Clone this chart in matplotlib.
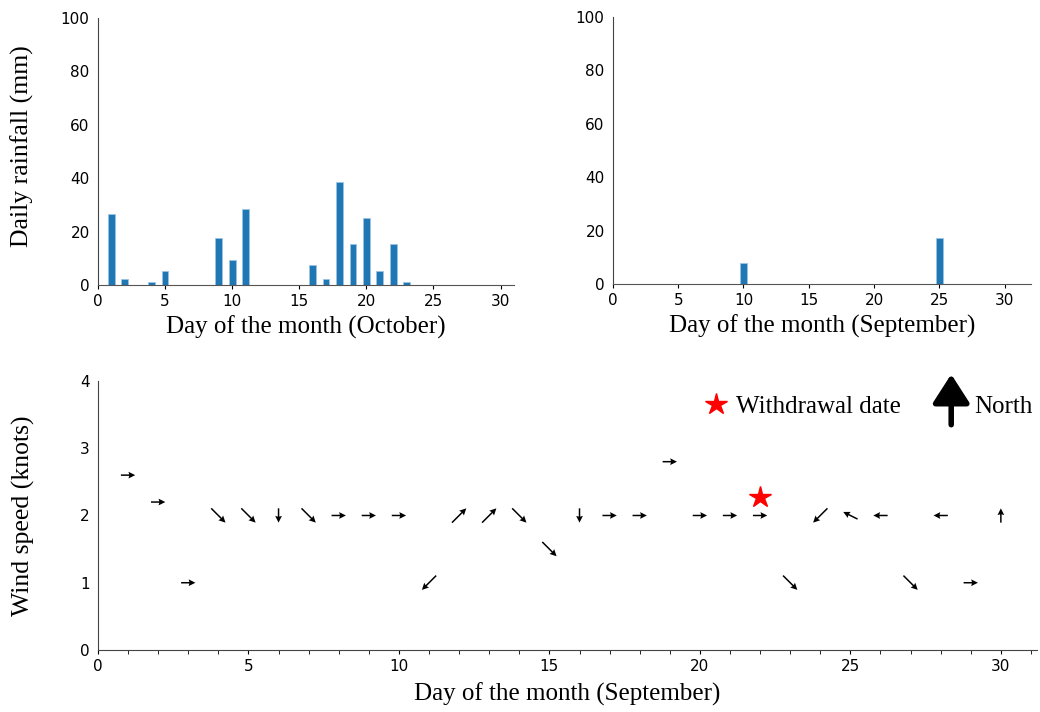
import numpy as np
import matplotlib
matplotlib.use('Agg')
import matplotlib.pyplot as plt
from matplotlib.ticker import MultipleLocator

# daily rainfall, October
oct_days = [1, 2, 4, 5, 9, 10, 11, 16, 17, 18, 19, 20, 21, 22, 23]
oct_rain = [26.5, 2.2, 1.0, 5.2, 17.5, 9.4, 28.3, 7.4, 2.2, 38.5, 15.2, 25.2, 5.2, 15.2, 1.0]

# daily rainfall, September
sep_days = [10, 25]
sep_rain = [8.0, 17.2]

# wind, September
wind_days = list(range(1, 31))
wind_speed = [2.6, 2.2, 1, 2, 2, 2, 2, 2, 2, 2,
              1, 2, 2, 2, 1.5, 2, 2, 2, 2.8, 2,
              2, 2, 1, 2, 2, 2, 1, 2, 1, 2]
wind_u = [1, 1, 1, 1, 1, 0, 1, 1, 1, 1,
          -1, 1, 1, 1, 1, 0, 1, 1, 1, 1,
          1, 1, 1, -1, -1, -1, 1, -1, 1, 0]
wind_v = [0, 0, 0, -1, -1, -1, -1, 0, 0, 0,
          -1, 1, 1, -1, -1, -1, 0, 0, 0, 0,
          0, 0, -1, -1, 0.5, 0, -1, 0, 0, 1]

withdrawal_day = 22
withdrawal_speed = 2.27

serif = 'Liberation Serif'
lab_size = 18
ylab_size = 18.5
tick_size = 11
bar_color = '#1f77b4'

fig = plt.figure(figsize=(10.4, 7.12), dpi=100)
ax1 = fig.add_axes([0.0942, 0.5997, 0.4, 0.375])
ax2 = fig.add_axes([0.5894, 0.601, 0.4016, 0.375])
ax3 = fig.add_axes([0.0942, 0.0871, 0.9029, 0.3778])


def rain_axes(ax, days, rain, xmax, label):
    ax.bar(days, rain, width=0.5, color=bar_color, edgecolor='#9cc3e4', linewidth=0.6)
    ax.set_xlim(0, xmax)
    ax.set_ylim(0, 100)
    ax.set_xticks(range(0, 31, 5))
    ax.set_yticks(range(0, 101, 20))
    for s in ['top', 'right']:
        ax.spines[s].set_visible(False)
    ax.spines['left'].set_color('#444444')
    ax.spines['bottom'].set_color('#555555')
    ax.tick_params(axis='y', length=0, pad=6, labelsize=tick_size)
    ax.tick_params(axis='x', length=3, labelsize=tick_size)
    ax.set_xlabel(label, fontfamily=serif, fontsize=lab_size, labelpad=5)


rain_axes(ax1, oct_days, oct_rain, 31, 'Day of the month (October)')
ax1.set_ylabel('Daily rainfall (mm)', fontfamily=serif, fontsize=ylab_size)
ax1.yaxis.set_label_coords(-0.153, 0.52)
rain_axes(ax2, sep_days, sep_rain, 32, 'Day of the month (September)')

# wind direction arrows
ax3.quiver(wind_days, wind_speed, wind_u, wind_v, pivot='middle',
           angles='uv', units='dots', scale_units='dots', scale=1 / 14.3,
           width=1.5, headwidth=4.5, headlength=4.5, headaxislength=4,
           color='black')
ax3.plot(withdrawal_day, withdrawal_speed, ls='none', marker='*', ms=16,
         color='red', label='Withdrawal date')
ax3.legend(loc='center left', bbox_to_anchor=(0.645, 0.905), frameon=False,
           borderpad=0, borderaxespad=0, handlelength=1.0, handletextpad=0.3,
           prop={'family': serif, 'size': lab_size})
ax3.annotate('', xy=(28.35, 4.1), xytext=(28.35, 3.35), annotation_clip=False,
             arrowprops=dict(arrowstyle='-|>,head_width=0.45,head_length=0.7',
                             lw=4, mutation_scale=25, color='black',
                             shrinkA=0, shrinkB=0))
ax3.text(29.1, 3.61, 'North', fontfamily=serif, fontsize=lab_size, va='center')

ax3.set_xlim(0, 31.2)
ax3.set_ylim(0, 4)
ax3.xaxis.set_major_locator(MultipleLocator(5))
ax3.xaxis.set_minor_locator(MultipleLocator(1))
ax3.set_yticks(range(0, 5))
for s in ['top', 'right']:
    ax3.spines[s].set_visible(False)
ax3.spines['left'].set_color('#444444')
ax3.spines['bottom'].set_color('#444444')
ax3.tick_params(axis='y', length=0, pad=6, labelsize=tick_size)
ax3.tick_params(axis='x', which='both', length=3, labelsize=tick_size)
ax3.set_xlabel('Day of the month (September)', fontfamily=serif, fontsize=lab_size, labelpad=6)
ax3.set_ylabel('Wind speed (knots)', fontfamily=serif, fontsize=ylab_size)
ax3.yaxis.set_label_coords(-0.067, 0.5)

fig.savefig('out.png', dpi=100)
